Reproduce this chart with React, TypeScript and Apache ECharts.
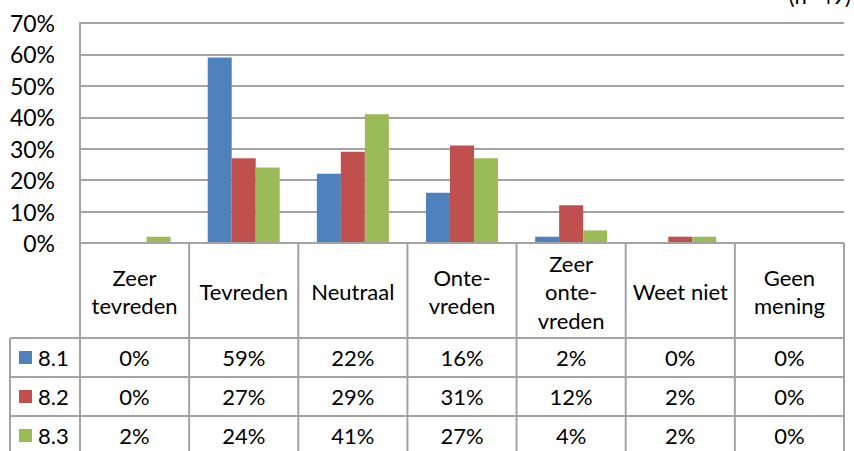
import React, { useEffect, useRef } from "react";
import * as echarts from "echarts";

const categories = ["Zeer\ntevreden", "Tevreden", "Neutraal", "Onte-\nvreden", "Zeer\nonte-\nvreden", "Weet niet", "Geen\nmening"];
const seriesNames = ["8.1", "8.2", "8.3"];
const values81 = [0, 59, 22, 16, 2, 0, 0];
const values82 = [0, 27, 29, 31, 12, 2, 0];
const values83 = [2, 24, 41, 27, 4, 2, 0];
const seriesValues = [values81, values82, values83];
const colors = ["#4F81BD", "#C0504D", "#9BBB59"];
const note = "(n=49)";

const FONT = "Lato, 'Open Sans', sans-serif";
const GRID_LEFT = 80;
const GRID_RIGHT = 844;
const GRID_TOP = 23;
const AXIS_Y = 243;
const HEADER_BOTTOM = 338;
const ROW_H = 39;
const LEG_LEFT = 10;
const LINE = "#A3A3A3";
const TXT = 22;

export default function App() {
  const ref = useRef<HTMLDivElement>(null);
  useEffect(() => {
    if (!ref.current) return;
    const chart = echarts.init(ref.current, null, { renderer: "svg" });
    const colW = (GRID_RIGHT - GRID_LEFT) / categories.length;
    const graphics: any[] = [];
    const lineStyle = { stroke: LINE, lineWidth: 2 };
    const tableBottom = HEADER_BOTTOM + ROW_H * seriesNames.length;
    for (let i = 0; i <= categories.length; i++) {
      const x = GRID_LEFT + i * colW;
      graphics.push({ type: "line", shape: { x1: x, y1: AXIS_Y, x2: x, y2: tableBottom }, style: lineStyle, z: 10 });
    }
    graphics.push({ type: "line", shape: { x1: LEG_LEFT, y1: HEADER_BOTTOM, x2: LEG_LEFT, y2: tableBottom }, style: lineStyle, z: 10 });
    graphics.push({ type: "line", shape: { x1: GRID_LEFT, y1: AXIS_Y, x2: GRID_RIGHT, y2: AXIS_Y }, style: lineStyle, z: 10 });
    for (let r = 0; r <= seriesNames.length; r++) {
      const y = HEADER_BOTTOM + r * ROW_H;
      graphics.push({ type: "line", shape: { x1: LEG_LEFT, y1: y, x2: GRID_RIGHT, y2: y }, style: lineStyle, z: 10 });
    }
    categories.forEach((c, i) => {
      graphics.push({
        type: "text",
        style: {
          text: c, x: GRID_LEFT + (i + 0.5) * colW, y: (AXIS_Y + HEADER_BOTTOM) / 2 + 1,
          align: "center", verticalAlign: "middle", fontSize: TXT, fontFamily: FONT, fill: "#000", lineHeight: 28.5,
        },
        z: 11,
      });
    });
    seriesNames.forEach((name, r) => {
      const cy = HEADER_BOTTOM + (r + 0.5) * ROW_H;
      graphics.push({ type: "rect", shape: { x: 19, y: cy - 6.5, width: 13, height: 13 }, style: { fill: colors[r] }, z: 11 });
      graphics.push({
        type: "text",
        style: { text: name, x: 38, y: cy, align: "left", verticalAlign: "middle", fontSize: TXT, fontFamily: FONT, fill: "#000" },
        z: 11,
      });
      seriesValues[r].forEach((v, i) => {
        graphics.push({
          type: "text",
          style: {
            text: v + "%", x: GRID_LEFT + (i + 0.5) * colW, y: cy,
            align: "center", verticalAlign: "middle", fontSize: TXT, fontFamily: FONT, fill: "#000",
          },
          z: 11,
        });
      });
    });
    graphics.push({
      type: "text",
      style: { text: note, x: 851, y: 6, align: "right", verticalAlign: "bottom", fontSize: 22, fontFamily: FONT, fill: "#000" },
      z: 11,
    });

    chart.setOption({
      animation: false,
      backgroundColor: "#fff",
      grid: { left: GRID_LEFT, right: 854 - GRID_RIGHT, top: GRID_TOP, bottom: 451 - AXIS_Y, containLabel: false },
      xAxis: {
        type: "category",
        data: categories,
        axisLine: { show: false },
        axisTick: { show: false },
        axisLabel: { show: false },
        splitLine: { show: false },
      },
      yAxis: {
        type: "value",
        min: 0,
        max: 70,
        interval: 10,
        axisLine: { show: true, lineStyle: { color: LINE, width: 2 } },
        axisTick: { show: false },
        axisLabel: { formatter: "{value}%", fontSize: 23, fontFamily: FONT, color: "#000", margin: 25 },
        splitLine: { show: true, lineStyle: { color: LINE, width: 2 } },
      },
      series: seriesNames.map((n, i) => ({
        name: n,
        type: "bar",
        data: seriesValues[i],
        barWidth: 24,
        barGap: "0%",
        itemStyle: { color: colors[i] },
      })),
      graphic: graphics,
    });
    return () => chart.dispose();
  }, []);
  return <div ref={ref} style={{ position: "fixed", left: 0, top: 0, width: 854, height: 451, background: "#fff" }} />;
}
